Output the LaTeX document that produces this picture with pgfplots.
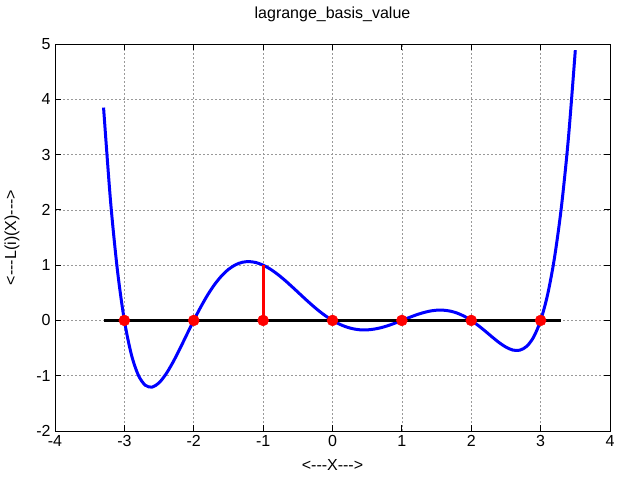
\documentclass[border=0pt]{standalone}
\usepackage{pgfplots}
\pgfplotsset{compat=1.18}
\usepackage{fontspec}
\setmainfont{Liberation Sans}
\begin{document}
\begin{tikzpicture}
\path[use as bounding box] (-55bp,-49bp) rectangle (585bp,431bp);
\begin{axis}[
  at={(0,0)}, anchor=south west,
  scale only axis, width=555bp, height=387bp,
  xmin=-4, xmax=4, ymin=-2, ymax=5,
  xtick={-4,-3,...,4}, ytick={-2,-1,...,5},
  tick align=inside, major tick length=6bp,
  tick style={black, line width=0.8pt},
  grid=major,
  major grid style={gray!80, dashed, dash pattern=on 2bp off 2bp, line width=0.7pt},
  axis line style={black, line width=0.9pt},
  /pgf/number format/assume math mode=true,
  ticklabel style={font=\fontsize{16bp}{19bp}\selectfont},
  x tick label style={yshift=-1bp},
  y tick label style={xshift=-1bp},
  title={lagrange\_basis\_value},
  title style={font=\fontsize{16bp}{19bp}\selectfont, at={(axis description cs:0.5,1.062)}, anchor=center},
  xlabel={<{-}{-}{-}X{-}{-}{-}>},
  ylabel={<{-}{-}{-}L(i)(X){-}{-}{-}>},
  label style={font=\fontsize{16bp}{19bp}\selectfont},
  xlabel style={at={(axis description cs:0.5,-0.0879)}, anchor=center},
  ylabel style={at={(axis description cs:-0.0775,0.5)}, anchor=center},
  clip=false,
]
\addplot[blue, line width=3bp, smooth] coordinates {
(-3.3,3.850) (-3.2,2.167) (-3.1,0.906) (-3.0,0) (-2.9,-0.613) (-2.8,-0.987)
(-2.7,-1.171) (-2.6,-1.206) (-2.5,-1.128) (-2.4,-0.969) (-2.3,-0.757) (-2.2,-0.513)
(-2.1,-0.255) (-2.0,0) (-1.9,0.241) (-1.8,0.460) (-1.7,0.649) (-1.6,0.804)
(-1.5,0.923) (-1.4,1.005) (-1.3,1.052) (-1.2,1.064) (-1.1,1.046) (-1.0,1.0)
(-0.9,0.931) (-0.8,0.843) (-0.7,0.741) (-0.6,0.629) (-0.5,0.513) (-0.4,0.396)
(-0.3,0.283) (-0.2,0.177) (-0.1,0.082) (0,0) (0.1,-0.067) (0.2,-0.118)
(0.3,-0.152) (0.4,-0.170) (0.5,-0.171) (0.6,-0.157) (0.7,-0.131) (0.8,-0.094)
(0.9,-0.049) (1.0,0) (1.1,0.050) (1.2,0.097) (1.3,0.137) (1.4,0.168)
(1.5,0.185) (1.6,0.185) (1.7,0.168) (1.8,0.131) (1.9,0.075) (2.0,0)
(2.1,-0.091) (2.2,-0.192) (2.3,-0.298) (2.4,-0.399) (2.5,-0.483) (2.6,-0.536)
(2.7,-0.538) (2.8,-0.468) (2.9,-0.299) (3.0,0) (3.1,0.464) (3.2,1.135)
(3.3,2.059) (3.4,3.290) (3.5,4.888)
};
\addplot[black, line width=3bp] coordinates {(-3.3,0) (3.3,0)};
\addplot[red, line width=3bp] coordinates {(-1,0) (-1,1)};
\addplot[only marks, mark=*, mark size=5.5bp, red, mark options={fill=red, draw=red}] coordinates {
(-3,0) (-2,0) (-1,0) (0,0) (1,0) (2,0) (3,0)};
\end{axis}
\end{tikzpicture}
\end{document}
